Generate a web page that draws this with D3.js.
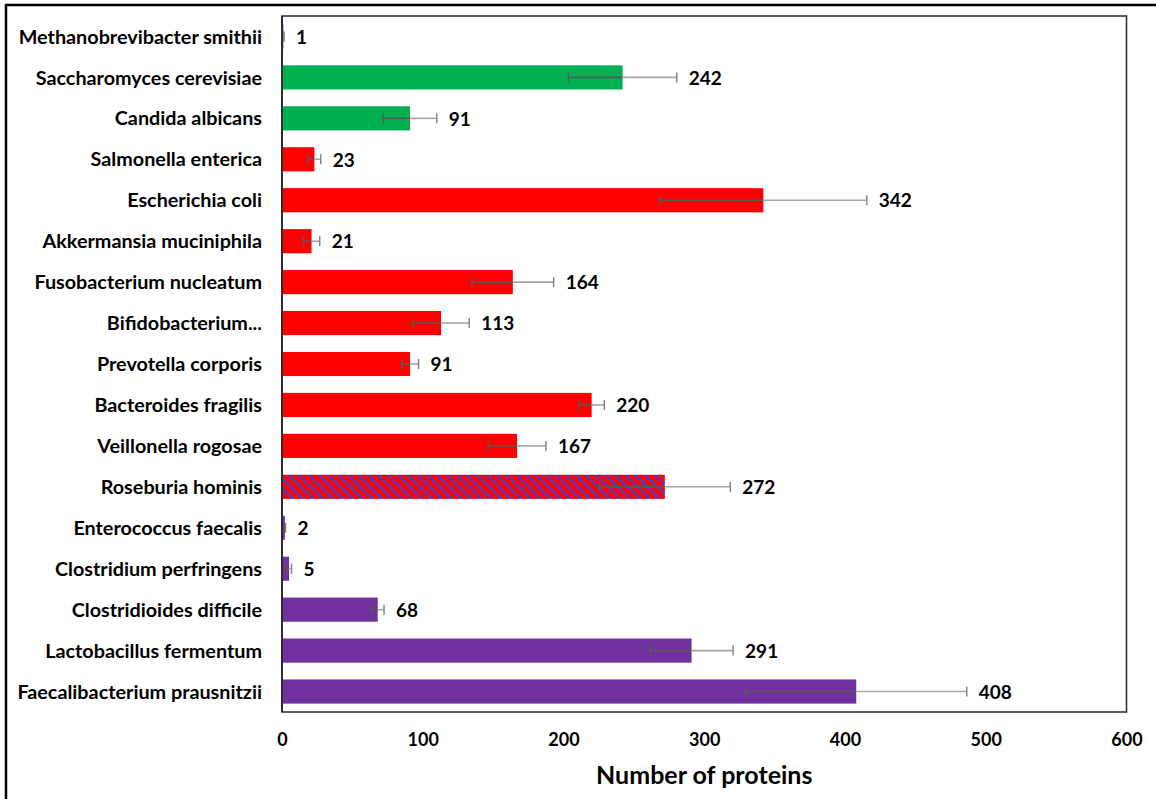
<!DOCTYPE html>
<html>
<head>
<meta charset="utf-8">
<script src="https://cdn.jsdelivr.net/npm/d3@7"></script>
<style>
  html, body { margin: 0; padding: 0; background: #fff; }
  svg { display: block; }
  text { font-family: Lato, "Open Sans", sans-serif; }
</style>
</head>
<body>
<svg id="chart" width="1156" height="799"></svg>
<script>
// ---- data (top to bottom) ----
const categories = [
  "Methanobrevibacter smithii",
  "Saccharomyces cerevisiae",
  "Candida albicans",
  "Salmonella enterica",
  "Escherichia coli",
  "Akkermansia muciniphila",
  "Fusobacterium nucleatum",
  "Bifidobacterium...",
  "Prevotella corporis",
  "Bacteroides fragilis",
  "Veillonella rogosae",
  "Roseburia hominis",
  "Enterococcus faecalis",
  "Clostridium perfringens",
  "Clostridioides difficile",
  "Lactobacillus fermentum",
  "Faecalibacterium prausnitzii"
];
const values = [1, 242, 91, 23, 342, 21, 164, 113, 91, 220, 167, 272, 2, 5, 68, 291, 408];
const errors = [0.5, 38.5, 19, 4.5, 73.5, 5.8, 29, 20, 6, 9, 20.5, 46.5, 0.5, 1.8, 4.5, 29.5, 78.5];
// group: archaea / fungi / gram-negative / mixed / gram-positive
const groups = ["archaea", "fungi", "fungi", "neg", "neg", "neg", "neg", "neg", "neg", "neg", "neg",
                "mixed", "pos", "pos", "pos", "pos", "pos"];
const xTicks = [0, 100, 200, 300, 400, 500, 600];
const xTitle = "Number of proteins";

const colors = { archaea: "#7030a0", fungi: "#00b050", neg: "#ff0000", pos: "#7030a0", mixed: "url(#hatch)" };

const svg = d3.select("#chart");

// hatch pattern
const defs = svg.append("defs");
const pat = defs.append("pattern")
  .attr("id", "hatch").attr("patternUnits", "userSpaceOnUse")
  .attr("width", 7).attr("height", 7)
  .attr("patternTransform", "rotate(-45)");
pat.append("rect").attr("width", 7).attr("height", 7).attr("fill", "#ff0000");
pat.append("rect").attr("width", 3).attr("height", 7).attr("fill", "#7030a0");

// outer border
svg.append("rect").attr("x", 6).attr("y", 5).attr("width", 1160).attr("height", 810)
  .attr("fill", "none").attr("stroke", "#000").attr("stroke-width", 2.5);

const plot = { left: 282, right: 1126.5, top: 16, bottom: 712 };

const x = d3.scaleLinear().domain([0, 600]).range([plot.left, plot.right]);
const y = d3.scaleBand().domain(categories).range([plot.top, plot.bottom])
  .paddingInner(0.41).paddingOuter(0.205);

// plot frame
svg.append("rect").attr("x", plot.left).attr("y", plot.top)
  .attr("width", plot.right - plot.left).attr("height", plot.bottom - plot.top)
  .attr("fill", "none").attr("stroke", "#333").attr("stroke-width", 1.6);

// bars
svg.append("g").selectAll("rect").data(categories).join("rect")
  .attr("x", x(0))
  .attr("y", d => y(d))
  .attr("width", (d, i) => x(values[i]) - x(0))
  .attr("height", y.bandwidth())
  .attr("fill", (d, i) => colors[groups[i]]);

// error bars
const eb = svg.append("g");
categories.forEach((c, i) => {
  const cy = y(c) + y.bandwidth() / 2;
  const lo = x(values[i] - errors[i]), hi = x(values[i] + errors[i]), mid = x(values[i]);
  eb.append("line").attr("x1", lo).attr("x2", mid).attr("y1", cy).attr("y2", cy)
    .attr("stroke", "#595959").attr("stroke-width", 1.6);
  eb.append("line").attr("x1", mid).attr("x2", hi).attr("y1", cy).attr("y2", cy)
    .attr("stroke", "#a6a6a6").attr("stroke-width", 1.6);
  eb.append("line").attr("x1", lo).attr("x2", lo).attr("y1", cy - 5).attr("y2", cy + 5)
    .attr("stroke", "#595959").attr("stroke-width", 1.4);
  eb.append("line").attr("x1", hi).attr("x2", hi).attr("y1", cy - 5).attr("y2", cy + 5)
    .attr("stroke", "#7f7f7f").attr("stroke-width", 1.4);
});

// left axis line
svg.append("line").attr("x1", plot.left).attr("x2", plot.left)
  .attr("y1", plot.top).attr("y2", plot.bottom).attr("stroke", "#222").attr("stroke-width", 1.6);

// value labels
svg.append("g").selectAll("text").data(categories).join("text")
  .attr("x", (d, i) => x(values[i] + errors[i]) + 12)
  .attr("y", d => y(d) + y.bandwidth() / 2)
  .attr("dy", "0.38em")
  .attr("font-size", 19).attr("font-weight", 700).attr("fill", "#000")
  .text((d, i) => values[i]);

// category labels
svg.append("g").selectAll("text").data(categories).join("text")
  .attr("x", 262)
  .attr("y", d => y(d) + y.bandwidth() / 2)
  .attr("dy", "0.36em")
  .attr("text-anchor", "end")
  .attr("font-size", 19.8).attr("font-weight", 700).attr("fill", "#000")
  .text(d => d);

// x axis tick labels
const xAxis = d3.axisBottom(x).tickValues(xTicks).tickSize(0).tickPadding(21);
const gx = svg.append("g").attr("transform", `translate(0,${plot.bottom})`).call(xAxis);
gx.select(".domain").remove();
gx.selectAll("text").attr("font-size", 18).attr("font-weight", 700)
  .attr("font-family", "Lato, sans-serif").attr("fill", "#000");

// axis title
svg.append("text").attr("x", (plot.left + plot.right) / 2).attr("y", 784)
  .attr("text-anchor", "middle").attr("font-size", 25).attr("font-weight", 700)
  .text(xTitle);
</script>
</body>
</html>
